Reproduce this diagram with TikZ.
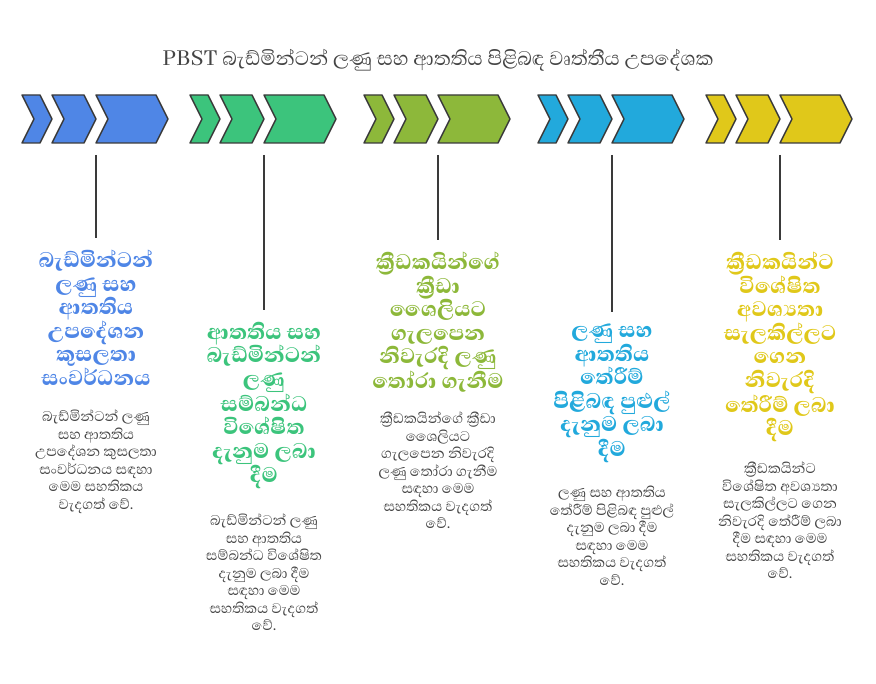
\documentclass[tikz,border=0pt]{standalone}
\usepackage{fontspec}
\setmainfont[Script=Sinhala]{Abhaya Libre}
\newfontfamily\sinb[Script=Sinhala]{Abhaya Libre ExtraBold}
\definecolor{cb}{HTML}{4F86E6}
\definecolor{cg}{HTML}{3CC47C}
\definecolor{co}{HTML}{8DB83A}
\definecolor{cc}{HTML}{22A9DC}
\definecolor{cy}{HTML}{E0C81A}
\definecolor{ln}{HTML}{3A3A3A}
\definecolor{tx}{HTML}{444444}
\tikzset{
  chev/.style={draw=ln,line width=1.4pt,line join=round},
  ttl/.style={anchor=north,align=center,inner sep=0pt,font=\sinb\fontsize{27}{23.5}\selectfont},
  body/.style={anchor=north,align=center,inner sep=0pt,text=tx,font=\fontsize{18}{17.5}\selectfont},
  stem/.style={draw=ln,line width=1.4pt}
}
\newcommand{\chevgroup}[3]{% x0, colour, name
  \fill[#2,chev] (#1,-95) -- ++(18,0) -- ++(12,-24) -- ++(-12,-24) -- ++(-18,0) -- ++(12,24) -- cycle;
  \fill[#2,chev] (#1+30,-95) -- ++(32,0) -- ++(12,-24) -- ++(-12,-24) -- ++(-32,0) -- ++(12,24) -- cycle;
  \fill[#2,chev] (#1+74,-95) -- ++(60,0) -- ++(12,-24) -- ++(-12,-24) -- ++(-60,0) -- ++(12,24) -- cycle;
  \coordinate (#3) at (#1+74,-155);
}
\begin{document}
\begin{tikzpicture}[x=1pt,y=1pt]
\useasboundingbox (0,0) rectangle (876,-684);
\node[text=tx,font=\fontsize{25}{19}\selectfont] (title) at (438,-60) {PBST බැඩ්මින්ටන් ලණු සහ ආතතිය පිළිබඳ වෘත්තීය උපදේශක};
\chevgroup{22}{cb}{s1}
\chevgroup{190}{cg}{s2}
\chevgroup{364}{co}{s3}
\chevgroup{538}{cc}{s4}
\chevgroup{706}{cy}{s5}
% group 1
\node[ttl,text=cb] (t1) at (96,-250) {බැඩ්මින්ටන්\\ලණු සහ\\ආතතිය\\උපදේශන\\කුසලතා\\සංවර්ධනය};
\node[body] (b1) at (96,-410) {බැඩ්මින්ටන් ලණු\\සහ ආතතිය\\උපදේශන කුසලතා\\සංවර්ධනය සඳහා\\මෙම සහතිකය\\වැදගත් වේ.};
\draw[stem] (s1) -- ([yshift=12pt]t1.north);
% group 2
\node[ttl,text=cg] (t2) at (264,-322) {ආතතිය සහ\\බැඩ්මින්ටන්\\ලණු\\සම්බන්ධ\\විශේෂිත\\දැනුම ලබා\\දීම};
\node[body] (b2) at (264,-514) {බැඩ්මින්ටන් ලණු\\සහ ආතතිය\\සම්බන්ධ විශේෂිත\\දැනුම ලබා දීම\\සඳහා මෙම\\සහතිකය වැදගත්\\වේ.};
\draw[stem] (s2) -- ([yshift=12pt]t2.north);
% group 3
\node[ttl,text=co] (t3) at (438,-252) {ක්‍රීඩකයින්ගේ\\ක්‍රීඩා\\ශෛලියට\\ගැලපෙන\\නිවැරදි ලණු\\තෝරා ගැනීම};
\node[body] (b3) at (438,-412) {ක්‍රීඩකයින්ගේ ක්‍රීඩා\\ශෛලියට\\ගැලපෙන නිවැරදි\\ලණු තෝරා ගැනීම\\සඳහා මෙම\\සහතිකය වැදගත්\\වේ.};
\draw[stem] (s3) -- ([yshift=12pt]t3.north);
% group 4
\node[ttl,text=cc] (t4) at (612,-324) {ලණු සහ\\ආතතිය\\තේරීම්\\පිළිබඳ පුළුල්\\දැනුම ලබා\\දීම};
\node[body] (b4) at (612,-486) {ලණු සහ ආතතිය\\තේරීම් පිළිබඳ පුළුල්\\දැනුම ලබා දීම\\සඳහා මෙම\\සහතිකය වැදගත්\\වේ.};
\draw[stem] (s4) -- ([yshift=12pt]t4.north);
% group 5
\node[ttl,text=cy] (t5) at (780,-252) {ක්‍රීඩකයින්ට\\විශේෂිත\\අවශ්‍යතා\\සැලකිල්ලට\\ගෙන\\නිවැරදි\\තේරීම් ලබා\\දීම};
\node[body] (b5) at (780,-462) {ක්‍රීඩකයින්ට\\විශේෂිත අවශ්‍යතා\\සැලකිල්ලට ගෙන\\නිවැරදි තේරීම් ලබා\\දීම සඳහා මෙම\\සහතිකය වැදගත්\\වේ.};
\draw[stem] (s5) -- ([yshift=12pt]t5.north);
\end{tikzpicture}
\end{document}
